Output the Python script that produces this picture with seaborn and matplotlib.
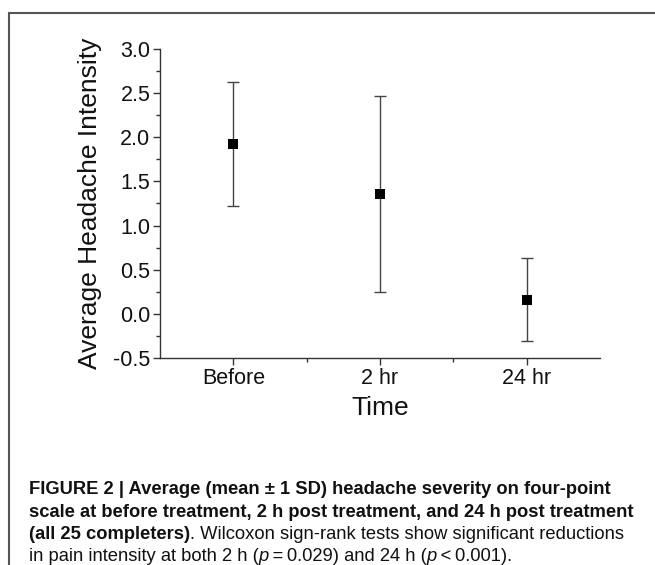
import matplotlib
matplotlib.use("Agg")
import matplotlib.pyplot as plt
import seaborn as sns
from matplotlib.lines import Line2D
from matplotlib.ticker import MultipleLocator, FixedLocator

# values
times = ["Before", "2 hr", "24 hr"]
means = [1.92, 1.36, 0.16]
sds = [0.70, 1.11, 0.47]

y_ticks = [-0.5, 0.0, 0.5, 1.0, 1.5, 2.0, 2.5, 3.0]

sns.set_theme(style="ticks")
plt.rcParams['font.family'] = ['Liberation Sans', 'DejaVu Sans']

fig = plt.figure(figsize=(6.55, 5.65), dpi=100)
ax = fig.add_axes([0.2443, 0.3664, 0.6717, 0.547])

ax.errorbar(x=list(range(len(times))), y=means, yerr=sds, fmt='none',
            ecolor='#444444', elinewidth=1.0, capsize=4, capthick=1.0, zorder=2)
sns.scatterplot(x=times, y=means, marker='s', s=50, color='black',
                edgecolor='black', linewidth=0, ax=ax, zorder=3)

ax.set_xlim(-0.5, 2.5)
ax.set_ylim(-0.5, 3.0)
ax.set_yticks(y_ticks)
ax.set_yticklabels([f"{t:.1f}" for t in y_ticks])
ax.yaxis.set_minor_locator(MultipleLocator(0.25))
ax.xaxis.set_minor_locator(FixedLocator([0.5, 1.5]))

for s in ['top', 'right']:
    ax.spines[s].set_visible(False)
for s in ['left', 'bottom']:
    ax.spines[s].set_color('#333333')
    ax.spines[s].set_linewidth(1.0)

ax.tick_params(axis='both', which='major', direction='out', length=5, width=1,
               color='#333333', labelsize=15.5, labelcolor='#111111', pad=2)
ax.tick_params(axis='both', which='minor', direction='out', length=3, width=1,
               color='#333333')
ax.set_xlabel("Time", fontsize=19, labelpad=5, color='#111111')
ax.set_ylabel("Average Headache Intensity", fontsize=19, labelpad=8, color='#111111')

# frame lines of the figure panel (top and left only)
fig.add_artist(Line2D([0.0137, 1.0], [0.977, 0.977], transform=fig.transFigure,
                      color='#555555', lw=1.5))
fig.add_artist(Line2D([0.0137, 0.0137], [0.0, 0.977], transform=fig.transFigure,
                      color='#555555', lw=1.5))

# caption, built from runs of text
cap_font = ['Liberation Sans', 'DejaVu Sans']
lines = [
    [("FIGURE 2 | Average (mean \u00b1 1 SD) headache severity on four-point", 'bold', 'normal')],
    [("scale at before treatment, 2 h post treatment, and 24 h post treatment", 'bold', 'normal')],
    [("(all 25 completers)", 'bold', 'normal'),
     (". Wilcoxon sign-rank tests show significant reductions", 'normal', 'normal')],
    [("in pain intensity at both 2 h (", 'normal', 'normal'), ("p", 'normal', 'italic'),
     ("\u2009=\u20090.029) and 24 h (", 'normal', 'normal'), ("p", 'normal', 'italic'),
     ("\u2009<\u20090.001).", 'normal', 'normal')],
]
line_y = [494, 517, 539, 561]

fig.canvas.draw()
renderer = fig.canvas.get_renderer()
for runs, yp in zip(lines, line_y):
    x = 29 / 655
    for txt, w, st in runs:
        t = fig.text(x, 1 - yp / 565, txt, fontsize=13.2, fontweight=w, fontstyle=st,
                     family=cap_font, color='#111111', va='baseline', ha='left')
        bb = t.get_window_extent(renderer)
        x += bb.width / fig.bbox.width

fig.savefig("out.png", dpi=100)
